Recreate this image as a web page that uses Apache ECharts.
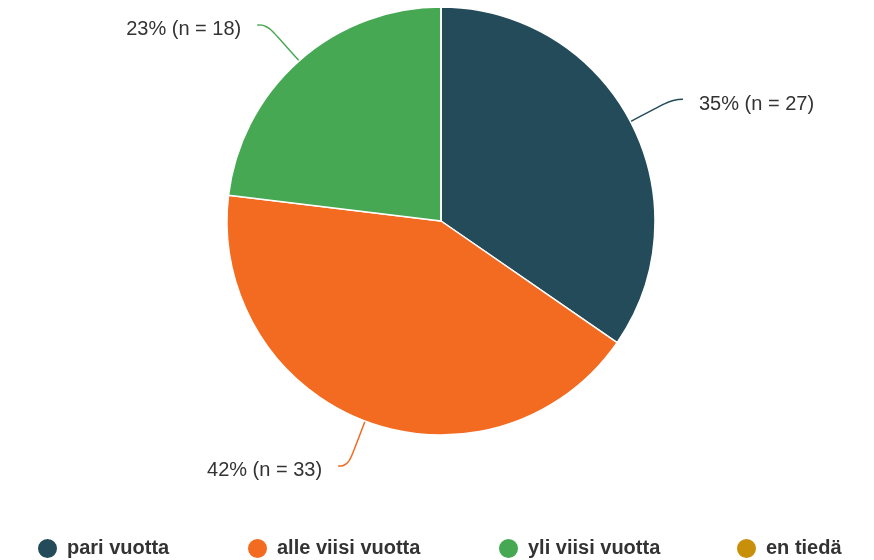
<!DOCTYPE html>
<html>
<head>
<meta charset="utf-8">
<script src="https://cdn.jsdelivr.net/npm/echarts@6/dist/echarts.min.js"></script>
<style>
  html, body { margin: 0; padding: 0; background: #fff; }
  #chart { width: 874px; height: 560px; }
</style>
</head>
<body>
<div id="chart"></div>
<script>
// vastaukset
const categories = ['pari vuotta', 'alle viisi vuotta', 'yli viisi vuotta', 'en tiedä'];
const counts = [27, 33, 18, 0];
const colors = ['#234b5a', '#f26b21', '#47a853', '#c8900a'];
const legendLeft = [36, 246, 497, 735];

const total = counts.reduce((a, b) => a + b, 0);

const chart = echarts.init(document.getElementById('chart'));

const option = {
  animation: false,
  color: colors,
  legend: categories.map((name, i) => ({
    data: [name],
    left: legendLeft[i],
    top: 537,
    padding: 0,
    icon: 'circle',
    itemWidth: 21,
    itemHeight: 21,
    itemGap: 0,
    textStyle: {
      fontFamily: 'Liberation Sans, Arial, sans-serif',
      fontWeight: 'bold',
      fontSize: 20,
      color: '#333',
      padding: [0, 0, 0, 4],
    },
  })),
  series: [{
    type: 'pie',
    center: [441, 221],
    radius: [0, 214],
    startAngle: 90,
    clockwise: true,
    itemStyle: {
      borderColor: '#fff',
      borderWidth: 1.5,
    },
    label: {
      show: true,
      distanceToLabelLine: 16,
      formatter: p => `{t|${Math.round(p.value / total * 100)}% (n = ${p.value})}`,
      rich: {
        t: {
          fontFamily: 'Liberation Sans, Arial, sans-serif',
          fontSize: 20,
          color: '#333',
          padding: [10, 0, 0, 0],
        },
      },
    },
    labelLine: {
      show: true,
      length: 48,
      length2: 10,
      smooth: 0.5,
      lineStyle: { width: 1.5 },
    },
    emphasis: { disabled: true },
    data: categories.map((name, i) => ({
      name,
      value: counts[i],
      label: { show: counts[i] > 0 },
      labelLine: { show: counts[i] > 0 },
    })),
  }],
};

chart.setOption(option);
</script>
</body>
</html>
